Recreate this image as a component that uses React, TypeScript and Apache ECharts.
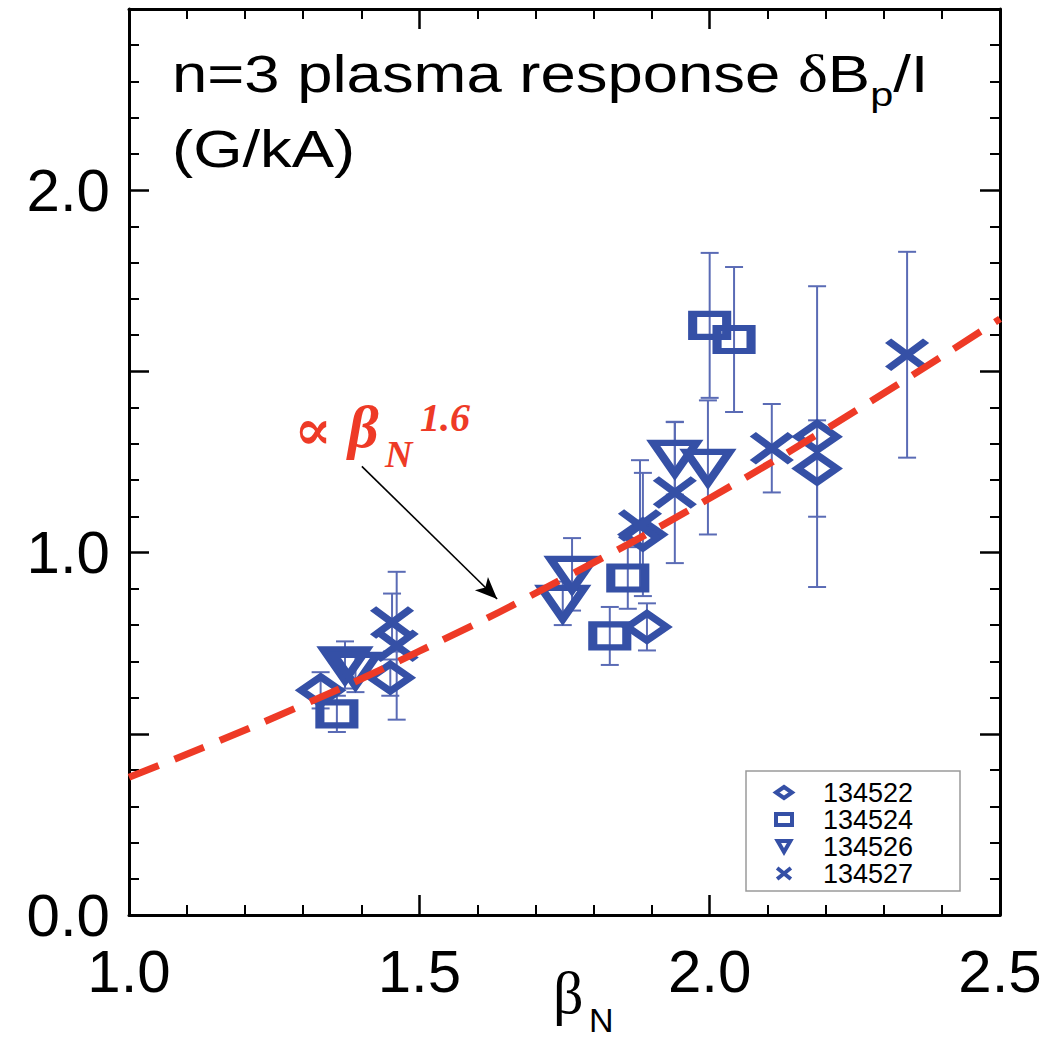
import React, { useEffect, useRef } from 'react';
import * as echarts from 'echarts';

// ---- data ----
const xTickLabels = ['1.0', '1.5', '2.0', '2.5'];
const yTickLabels = ['0.0', '1.0', '2.0'];
const seriesNames = ['134522', '134524', '134526', '134527'];

// 134522 (diamonds)
const s522X = [1.33, 1.45, 1.885, 1.892, 2.185, 2.185];
const s522Y = [0.62, 0.655, 1.05, 0.795, 1.32, 1.232];
const s522E = [0.05, 0.05, 0.17, 0.065, 0.415, 0.133];
// 134524 (squares)
const s524X = [1.358, 1.828, 1.859, 2.0, 2.042];
const s524Y = [0.555, 0.77, 0.93, 1.627, 1.588];
const s524E = [0.05, 0.08, 0.085, 0.2, 0.2];
// 134526 (down triangles)
const s526X = [1.372, 1.39, 1.747, 1.763, 1.94, 1.997];
const s526Y = [0.69, 0.675, 0.86, 0.94, 1.26, 1.235];
const s526E = [0.065, 0.06, 0.06, 0.1, 0.1, 0.185];
// 134527 (crosses)
const s527X = [1.453, 1.461, 1.88, 1.94, 2.107, 2.34];
const s527Y = [0.807, 0.743, 1.075, 1.166, 1.288, 1.546];
const s527E = [0.08, 0.204, 0.18, 0.195, 0.122, 0.284];

// fit curve (read at several beta_N)
const fitBetaN = [1.0, 1.25, 1.5, 1.75, 2.0, 2.25, 2.5];
const fitResponse = [0.38, 0.545, 0.728, 0.93, 1.15, 1.39, 1.645];

// arrow annotation (data coordinates)
const arrowFrom = [1.401, 1.238];
const arrowTo = [1.634, 0.872];

const BLUE = '#3550a6';
const EBAR = '#5a6bb5';
const RED = '#ee3a26';
const SANS = '"Liberation Sans", Arial, Helvetica, sans-serif';
const SERIF = '"Liberation Serif", "Times New Roman", "DejaVu Serif", serif';

const X_PATH = 'path://M0,0L10,8M10,0L0,8';
const TRI_DOWN = 'path://M0,0L10,0L5,8.66Z';

function zip(xs: number[], ys: number[]) {
  return xs.map((x, i) => [x, ys[i]]);
}
function ebars(xs: number[], ys: number[], es: number[]) {
  return xs.map((x, i) => [x, ys[i] - es[i], ys[i] + es[i]]);
}

function measure(text: string, font: string) {
  const c = document.createElement('canvas').getContext('2d');
  if (!c) return text.length * 20;
  c.font = font;
  return c.measureText(text).width;
}

export default function App() {
  const ref = useRef<HTMLDivElement>(null);

  useEffect(() => {
    if (!ref.current) return;
    const chart = echarts.init(ref.current, null, { renderer: 'svg' });

    const errRender = (params: any, api: any) => {
      const x = api.value(0);
      const lo = api.value(1);
      const hi = api.value(2);
      const p1 = api.coord([x, hi]);
      const p2 = api.coord([x, lo]);
      const cw = 9;
      const st = { stroke: EBAR, lineWidth: 2 };
      return {
        type: 'group',
        children: [
          { type: 'line', shape: { x1: p1[0], y1: p1[1], x2: p2[0], y2: p2[1] }, style: st },
          { type: 'line', shape: { x1: p1[0] - cw, y1: p1[1], x2: p1[0] + cw, y2: p1[1] }, style: st },
          { type: 'line', shape: { x1: p2[0] - cw, y1: p2[1], x2: p2[0] + cw, y2: p2[1] }, style: st },
        ],
      };
    };

    const allErr = [
      ...ebars(s522X, s522Y, s522E),
      ...ebars(s524X, s524Y, s524E),
      ...ebars(s526X, s526Y, s526E),
      ...ebars(s527X, s527Y, s527E),
    ];

    const hollow = { color: 'rgba(0,0,0,0)', borderColor: BLUE, borderWidth: 7.5, opacity: 1 };

    const xAxisBase = {
      type: 'value',
      min: 1.0,
      max: 2.5,
      interval: 0.5,
      splitLine: { show: false },
      axisLine: { onZero: false, lineStyle: { color: '#000', width: 3 } },
      axisTick: { inside: true, length: 20, lineStyle: { color: '#000', width: 2.5 } },
      minorTick: { show: true, splitNumber: 5, length: 10, lineStyle: { color: '#000', width: 2 } },
    };
    const yAxisBase = {
      type: 'value',
      min: 0,
      max: 2.5,
      interval: 0.5,
      splitLine: { show: false },
      axisLine: { onZero: false, lineStyle: { color: '#000', width: 3 } },
      axisTick: { inside: true, length: 20, lineStyle: { color: '#000', width: 2.5 } },
      minorTick: { show: true, splitNumber: 5, length: 10, lineStyle: { color: '#000', width: 2 } },
    };

    // title measurements
    const fMain = 52;
    const fSub = 34;
    const w1 = measure('n=3 plasma response ', `${fMain}px ${SANS}`);
    const w2 = measure('\u03b4', `${fMain}px ${SERIF}`);
    const w3 = measure('B', `${fMain}px ${SANS}`);
    const w4 = measure('p', `${fSub}px ${SANS}`);
    const midMain = 92 - 0.35 * fMain;
    const midSub = 106 - 0.35 * fSub;

    chart.setOption({
      animation: false,
      backgroundColor: '#fff',
      grid: { left: 129, right: 59, top: 9, bottom: 124, containLabel: false },
      xAxis: [
        {
          ...xAxisBase,
          position: 'bottom',
          axisLabel: {
            show: true,
            margin: 26,
            fontSize: 60,
            fontFamily: SANS,
            color: '#000',
            formatter: (v: number) => {
              const s = v.toFixed(1);
              return xTickLabels.indexOf(s) >= 0 ? s : '';
            },
          },
        },
        { ...xAxisBase, position: 'top', axisLabel: { show: false } },
      ],
      yAxis: [
        {
          ...yAxisBase,
          position: 'left',
          axisLabel: {
            show: true,
            margin: 19,
            fontSize: 60,
            fontFamily: SANS,
            color: '#000',
            formatter: (v: number) => {
              const s = v.toFixed(1);
              return yTickLabels.indexOf(s) >= 0 ? s : '';
            },
          },
        },
        { ...yAxisBase, position: 'right', axisLabel: { show: false } },
      ],
      legend: {
        data: [
          { name: seriesNames[0], icon: 'diamond' },
          { name: seriesNames[1], icon: 'rect' },
          { name: seriesNames[2], icon: TRI_DOWN },
          { name: seriesNames[3], icon: X_PATH },
        ],
        orient: 'vertical',
        left: 774,
        top: 779,
        itemWidth: 16,
        itemHeight: 11,
        itemGap: 0,
        padding: 0,
        selectedMode: false,
        itemStyle: { borderWidth: 4, borderColor: BLUE, color: 'rgba(0,0,0,0)', opacity: 1 },
        textStyle: {
          fontSize: 27,
          fontFamily: SANS,
          color: '#000',
          lineHeight: 26,
          padding: [0, 0, 0, 26],
        },
      },
      series: [
        {
          type: 'custom',
          name: 'errors',
          renderItem: errRender,
          data: allErr,
          encode: { x: 0, y: [1, 2] },
          z: 2,
          silent: true,
        },
        {
          type: 'scatter',
          name: seriesNames[0],
          symbol: 'diamond',
          symbolSize: [39, 27],
          itemStyle: hollow,
          data: zip(s522X, s522Y),
          z: 3,
        },
        {
          type: 'scatter',
          name: seriesNames[1],
          symbol: 'rect',
          symbolSize: [34, 23],
          itemStyle: hollow,
          data: zip(s524X, s524Y),
          z: 3,
        },
        {
          type: 'scatter',
          name: seriesNames[2],
          symbol: TRI_DOWN,
          symbolSize: [43, 31],
          itemStyle: hollow,
          data: zip(s526X, s526Y),
          z: 3,
        },
        {
          type: 'scatter',
          name: seriesNames[3],
          symbol: X_PATH,
          symbolSize: [38, 28],
          itemStyle: hollow,
          data: zip(s527X, s527Y),
          z: 3,
        },
        {
          type: 'line',
          name: 'fit',
          data: zip(fitBetaN, fitResponse),
          smooth: true,
          showSymbol: false,
          symbol: 'none',
          lineStyle: { color: RED, width: 7, type: [32, 17], cap: 'butt' },
          z: 5,
          silent: true,
          markLine: {
            silent: true,
            symbolSize: [14, 22],
            label: { show: false },
            lineStyle: { color: '#000', width: 1.6, type: 'solid' },
            data: [
              [
                { coord: arrowFrom, symbol: 'none' },
                { coord: arrowTo, symbol: 'arrow' },
              ],
            ],
          },
        },
      ],
      graphic: [
        {
          type: 'group',
          x: 172,
          y: 0,
          scaleX: 1.22,
          children: [
            { type: 'text', x: 0, y: midMain, style: { text: 'n=3 plasma response ', fontSize: fMain, fontFamily: SANS, fill: '#000', verticalAlign: 'middle' } },
            { type: 'text', x: w1, y: midMain, style: { text: '\u03b4', fontSize: fMain, fontFamily: SERIF, fill: '#000', verticalAlign: 'middle' } },
            { type: 'text', x: w1 + w2, y: midMain, style: { text: 'B', fontSize: fMain, fontFamily: SANS, fill: '#000', verticalAlign: 'middle' } },
            { type: 'text', x: w1 + w2 + w3, y: midSub, style: { text: 'p', fontSize: fSub, fontFamily: SANS, fill: '#000', verticalAlign: 'middle' } },
            { type: 'text', x: w1 + w2 + w3 + w4, y: midMain, style: { text: '/I', fontSize: fMain, fontFamily: SANS, fill: '#000', verticalAlign: 'middle' } },
            { type: 'text', x: 0, y: 167 - 0.35 * fMain, style: { text: '(G/kA)', fontSize: fMain, fontFamily: SANS, fill: '#000', verticalAlign: 'middle' } },
          ],
        },
        // beta_N axis title
        { type: 'text', x: 553, y: 1013 - 0.34 * 60, style: { text: '\u03b2', fontSize: 60, fontFamily: SERIF, fill: '#000', verticalAlign: 'middle' } },
        { type: 'text', x: 589, y: 1032 - 0.35 * 34, style: { text: 'N', fontSize: 34, fontFamily: SANS, fill: '#000', verticalAlign: 'middle' } },
        // fit annotation
        { type: 'text', x: 294, y: 429, style: { text: '\u221d', fontSize: 56, fontWeight: 'bold', fontStyle: 'italic', fontFamily: '"DejaVu Serif", serif', fill: RED, verticalAlign: 'middle' } },
        { type: 'text', x: 348, y: 447 - 0.34 * 60, style: { text: '\u03b2', fontSize: 60, fontWeight: 'bold', fontStyle: 'italic', fontFamily: SERIF, fill: RED, verticalAlign: 'middle' } },
        { type: 'text', x: 385, y: 467 - 0.34 * 38, style: { text: 'N', fontSize: 38, fontWeight: 'bold', fontStyle: 'italic', fontFamily: SERIF, fill: RED, verticalAlign: 'middle' } },
        { type: 'text', x: 420, y: 431 - 0.34 * 40, style: { text: '1.6', fontSize: 40, fontWeight: 'bold', fontStyle: 'italic', fontFamily: SERIF, fill: RED, verticalAlign: 'middle' } },
        // legend frame
        { type: 'rect', shape: { x: 746, y: 771, width: 214, height: 120 }, style: { fill: 'none', stroke: '#9a9a9a', lineWidth: 1.5 }, z: 10 },
      ],
    });

    return () => chart.dispose();
  }, []);

  return (
    <div
      ref={ref}
      style={{ position: 'fixed', left: 0, top: 0, width: 1059, height: 1039, background: '#fff' }}
    />
  );
}
